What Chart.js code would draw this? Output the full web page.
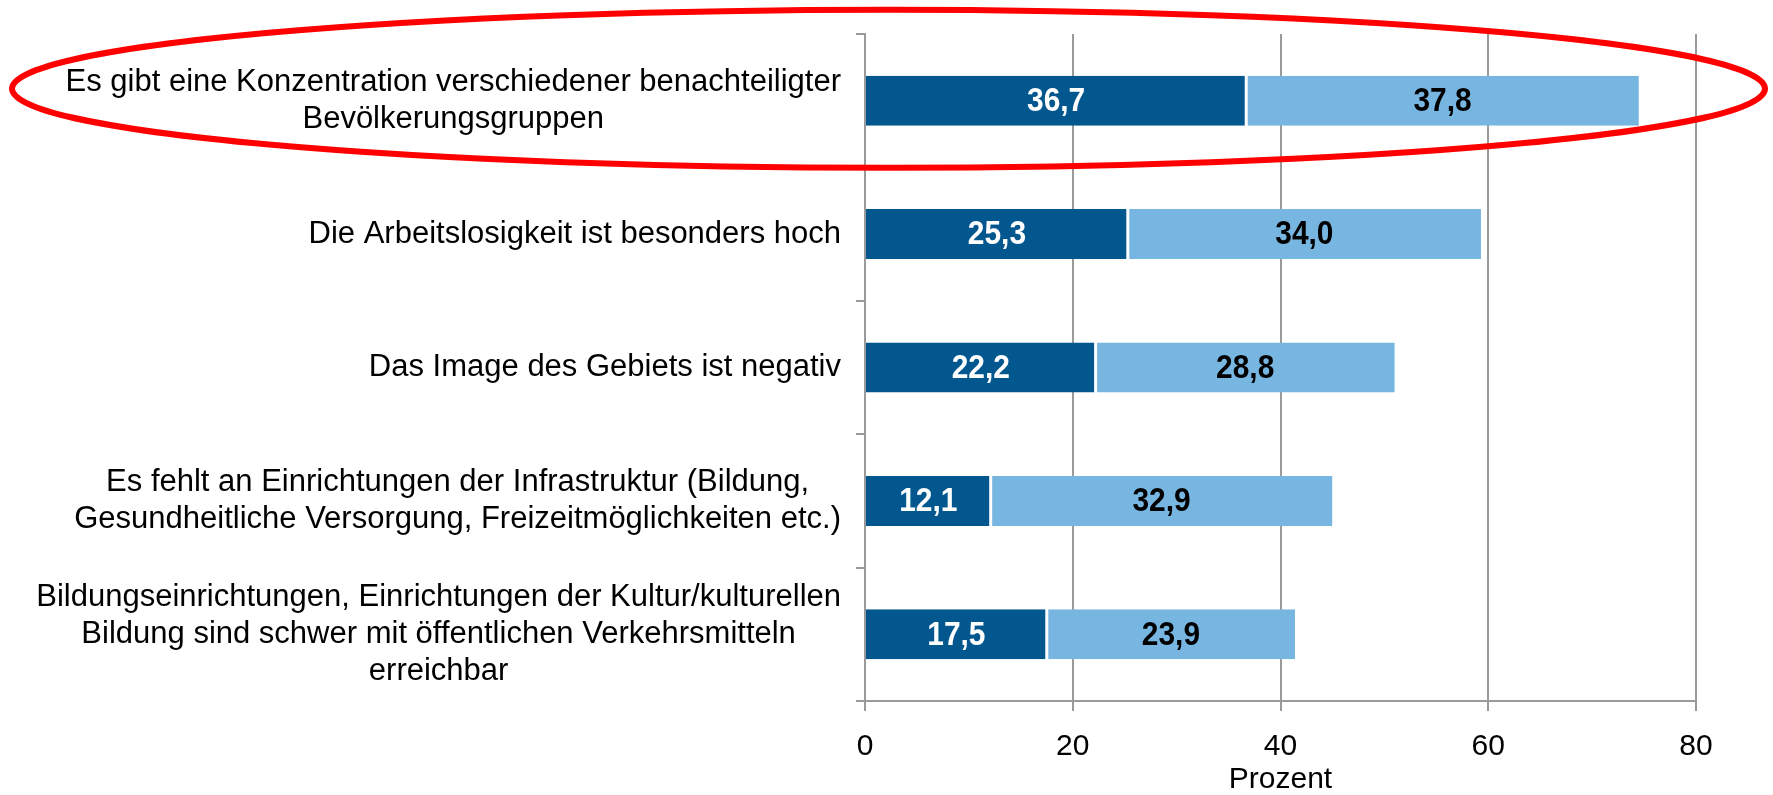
<!DOCTYPE html>
<html lang="de">
<head>
<meta charset="utf-8">
<title>Benachteiligte Gebiete</title>
<script src="https://cdn.jsdelivr.net/npm/chart.js@4.4.1/dist/chart.umd.min.js"></script>
<style>
  html, body { margin: 0; padding: 0; background: #fff; }
  #wrap { width: 1773px; height: 795px; }
</style>
</head>
<body>
<div id="wrap"><canvas id="grafico"></canvas></div>
<script>
// DATEN
const kategorien = [
    ["Es gibt eine Konzentration verschiedener benachteiligter", "Bevölkerungsgruppen"],
    ["Die Arbeitslosigkeit ist besonders hoch"],
    ["Das Image des Gebiets ist negativ"],
    ["Es fehlt an Einrichtungen der Infrastruktur (Bildung,", "Gesundheitliche Versorgung, Freizeitmöglichkeiten etc.)"],
    ["Bildungseinrichtungen, Einrichtungen der Kultur/kulturellen", "Bildung sind schwer mit öffentlichen Verkehrsmitteln", "erreichbar"]
];
const serieDunkel = [36.7, 25.3, 22.2, 12.1, 17.5];
const serieHell = [37.8, 34.0, 28.8, 32.9, 23.9];
const xTicks = [0, 20, 40, 60, 80];
const achsenTitel = "Prozent";

const schrift = '"Liberation Sans", Arial, sans-serif';
const grau = '#9a9a9a';

window.addEventListener('DOMContentLoaded', function () {

    // Beschriftung der Kategorien (Zeilen zentriert, Block rechtsbündig)
    const kategorieLabels = {
        id: 'kategorieLabels',
        afterDraw(chart) {
            const ctx = chart.ctx;
            const y = chart.scales.y;
            const lh = 37;
            ctx.save();
            ctx.font = '31px ' + schrift;
            ctx.fillStyle = '#000';
            ctx.textAlign = 'center';
            ctx.textBaseline = 'middle';
            chart.data.labels.forEach((zeilen, i) => {
                const maxW = Math.max(...zeilen.map(z => ctx.measureText(z).width));
                const cx = y.right - 24 - maxW / 2;
                const cy = y.getPixelForValue(i);
                zeilen.forEach((z, k) => {
                    ctx.fillText(z, cx, cy + (k - (zeilen.length - 1) / 2) * lh);
                });
            });
            ctx.restore();
        }
    };

    // Werte in den Balken (etwas schmaler gesetzt, wie im Original)
    const balkenWerte = {
        id: 'balkenWerte',
        afterDatasetsDraw(chart) {
            const ctx = chart.ctx;
            const sx = 0.88;
            ctx.save();
            ctx.font = 'bold 34px ' + schrift;
            ctx.textAlign = 'center';
            ctx.textBaseline = 'middle';
            chart.data.datasets.forEach((ds, d) => {
                chart.getDatasetMeta(d).data.forEach((bar, i) => {
                    const txt = ds.data[i].toFixed(1).replace('.', ',');
                    ctx.save();
                    ctx.translate((bar.x + bar.base) / 2, bar.y + 1);
                    ctx.scale(sx, 1);
                    ctx.fillStyle = ds.labelColor;
                    ctx.fillText(txt, 0, 0);
                    ctx.restore();
                });
            });
            ctx.restore();
        }
    };

    // rote Ellipse um die erste Kategorie
    const ellipse = {
        id: 'ellipse',
        afterDraw(chart) {
            const ctx = chart.ctx;
            const cy = chart.scales.y.getPixelForValue(0) - 12;
            ctx.save();
            ctx.strokeStyle = '#ff0000';
            ctx.lineWidth = 6;
            ctx.beginPath();
            ctx.ellipse(chart.width / 2 + 2, cy, chart.width / 2 - 10, 79, 0, 0, Math.PI * 2);
            ctx.stroke();
            ctx.restore();
        }
    };

    const ctx = document.getElementById('grafico').getContext('2d');
    new Chart(ctx, {
        type: 'bar',
        data: {
            labels: kategorien,
            datasets: [{
                data: serieDunkel,
                backgroundColor: '#03578f',
                borderColor: '#ffffff',
                borderWidth: { top: 0, bottom: 0, left: 0, right: 1.5 },
                borderSkipped: false,
                labelColor: '#ffffff'
            }, {
                data: serieHell,
                backgroundColor: '#78b6e2',
                borderColor: '#ffffff',
                borderWidth: { top: 0, bottom: 0, left: 1.5, right: 0 },
                borderSkipped: false,
                labelColor: '#000000'
            }]
        },
        options: {
            indexAxis: 'y',
            responsive: true,
            maintainAspectRatio: false,
            animation: false,
            barPercentage: 0.375,
            categoryPercentage: 1,
            layout: { padding: { top: 34, right: 77, left: 0, bottom: 0 } },
            scales: {
                x: {
                    stacked: true,
                    min: 0,
                    max: 80,
                    afterBuildTicks: s => { s.ticks = xTicks.map(v => ({ value: v })); },
                    afterFit: s => { s.height = 94; },
                    grid: { color: grau, lineWidth: 2, tickLength: 10, drawTicks: true },
                    border: { color: grau, width: 2 },
                    ticks: {
                        color: '#000',
                        padding: 18,
                        font: { family: schrift, size: 30, lineHeight: 1.2 }
                    },
                    title: {
                        display: true,
                        text: achsenTitel,
                        color: '#000',
                        padding: 0,
                        font: { family: schrift, size: 30, lineHeight: 1 }
                    }
                },
                y: {
                    stacked: true,
                    afterFit: s => { s.width = 865; },
                    grid: { display: true, drawOnChartArea: false, offset: true, tickLength: 9, color: grau, lineWidth: 2 },
                    border: { color: grau, width: 2 },
                    ticks: { display: false }
                }
            },
            plugins: {
                legend: { display: false },
                tooltip: { enabled: false },
                title: { display: false }
            }
        },
        plugins: [kategorieLabels, balkenWerte, ellipse]
    });
});
</script>
</body>
</html>
